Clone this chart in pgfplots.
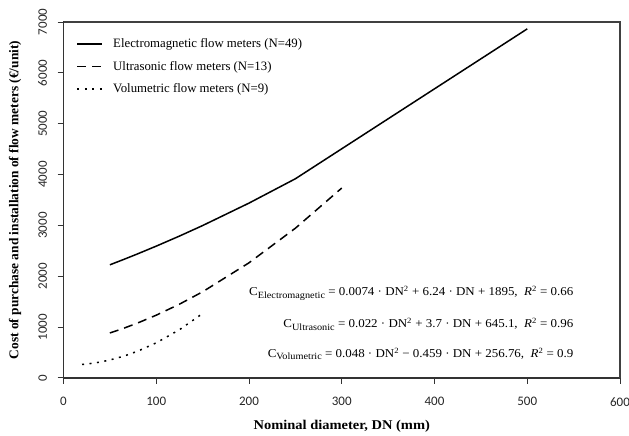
\documentclass[border=0pt]{standalone}
\usepackage{fontspec}
\setmainfont{Liberation Serif}
\newfontfamily\tickfont{Carlito}
\newfontfamily\eqfont[FakeStretch=1.08]{Liberation Serif}
\newfontfamily\labfont[FakeStretch=1.08]{Liberation Serif}
\usepackage{pgfplots}
\pgfplotsset{compat=1.18}

\begin{document}
\begin{tikzpicture}
\useasboundingbox (0,0) rectangle (629pt,436pt);
\begin{axis}[
    name=ax,
    at={(63.5pt,58pt)}, anchor=south west,
    scale only axis,
    width=556.5pt, height=356pt,
    xmin=0, xmax=600, ymin=0, ymax=7000,
    clip=false,
    xtick={0,100,...,600},
    ytick={0,1000,...,7000},
    tick pos=left,
    tick align=outside,
    major tick length=6pt,
    axis line style={line width=1.2pt, black!80},
    tick style={line width=1pt, black!80},
    /pgf/number format/assume math mode=true,
    scaled y ticks=false,
    yticklabel style={/pgf/number format/1000 sep={}},
    xticklabel style={font=\tickfont\fontsize{13}{13}\selectfont, text=black!85},
    yticklabel style={font=\tickfont\fontsize{13}{13}\selectfont, text=black!85,
        rotate=90, anchor=south},
    xticklabel shift=10pt,
    yticklabel shift=7pt,
    xlabel={\labfont\bfseries Nominal diameter, DN (mm)},
    ylabel={\bfseries Cost of purchase and installation of flow meters (€/unit)},
    label style={font=\fontsize{13.4}{15}\selectfont},
    xlabel style={yshift=-7pt},
    ylabel style={yshift=10pt},
    legend style={at={(0.018,0.965)}, anchor=north west, draw=none, fill=none,
        font=\fontsize{12.8}{15}\selectfont, row sep=8pt, column sep=8pt},
    legend cell align=left,
    legend image code/.code={\draw[#1] (0pt,0pt) -- (25pt,0pt);},
]
\addplot[line width=1.5pt, black] coordinates {
    (50,2225.5) (65,2331.9) (80,2441.6) (100,2593) (125,2790.6)
    (150,2997.5) (200,3439) (250,3917.5) (500,6865)};
\addlegendentry{Electromagnetic flow meters (N=49)}
\addplot[line width=1.5pt, black, dash pattern=on 9pt off 6pt] coordinates {
    (50,885.1) (65,978.6) (80,1081.9) (100,1235.1) (125,1451.4)
    (150,1695.1) (200,2265.1) (250,2945.1) (300,3735.1)};
\addlegendentry{Ultrasonic flow meters (N=13)}
\addplot[line width=1.5pt, black, dash pattern=on 2pt off 5.5pt] coordinates {
    (20,266.8) (25,275.3) (32,291.2) (40,315.2) (50,353.8) (65,429.7)
    (80,527.2) (100,690.9) (125,949.4) (150,1267.9)};
\addlegendentry{Volumetric flow meters (N=9)}
\node[anchor=east, font=\eqfont\fontsize{12}{14}\selectfont] at (axis cs:553.6,1671)
    {C\raisebox{-0.45ex}{\fontsize{9.5}{10}\selectfont Electromagnetic} = 0.0074 · DN\textsuperscript{2} + 6.24 · DN + 1895,\ \ \textit{R}\textsuperscript{2} = 0.66};
\node[anchor=east, font=\eqfont\fontsize{12}{14}\selectfont] at (axis cs:553.6,1062)
    {C\raisebox{-0.45ex}{\fontsize{9.5}{10}\selectfont Ultrasonic} = 0.022 · DN\textsuperscript{2} + 3.7 · DN + 645.1,\ \ \textit{R}\textsuperscript{2} = 0.96};
\node[anchor=east, font=\eqfont\fontsize{12}{14}\selectfont] at (axis cs:553.6,472)
    {C\raisebox{-0.45ex}{\fontsize{9.5}{10}\selectfont Volumetric} = 0.048 · DN\textsuperscript{2} − 0.459 · DN + 256.76,\ \ \textit{R}\textsuperscript{2} = 0.9};
\end{axis}
\draw[line width=1.3pt, black!75] (ax.north west) -- (ax.north east) -- (ax.south east);
\end{tikzpicture}
\end{document}
